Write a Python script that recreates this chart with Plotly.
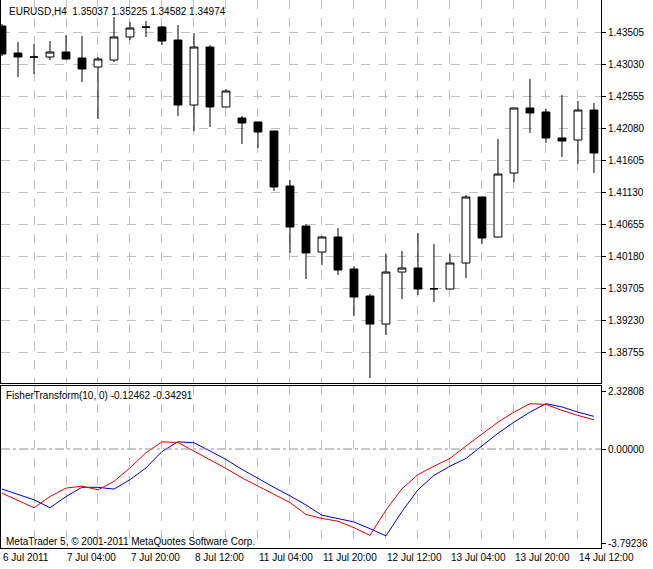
import plotly.graph_objects as go

W, H = 653, 569
opens  = [1.43594,1.43193,1.43134,1.43134,1.43208,1.43119,1.42985,1.43089,1.43431,1.43575,1.43579,1.43386,1.42421,1.43282,1.42392,1.42228,1.42169,1.42035,1.41219,1.40625,1.40239,1.40462,1.39987,1.39586,1.39170,1.39942,1.40002,1.39690,1.39690,1.40076,1.41056,1.40462,1.41412,1.42377,1.42318,1.41932,1.41902,1.42347]
highs  = [1.43624,1.43357,1.43327,1.43371,1.43460,1.43446,1.43134,1.43728,1.43653,1.43668,1.43594,1.43609,1.43490,1.43312,1.42659,1.42258,1.42175,1.42040,1.41308,1.40655,1.40477,1.40596,1.40031,1.39616,1.40210,1.40254,1.40521,1.40358,1.40210,1.41085,1.41060,1.41917,1.42377,1.42807,1.42362,1.42570,1.42481,1.42451]
lows   = [1.43149,1.42837,1.42882,1.43089,1.43095,1.42763,1.42214,1.43060,1.43386,1.43431,1.43312,1.42258,1.42035,1.42095,1.42385,1.41843,1.41783,1.41145,1.40225,1.39838,1.40046,1.39898,1.39289,1.38369,1.39007,1.39541,1.39601,1.39497,1.39685,1.39853,1.40358,1.40455,1.41278,1.42006,1.41857,1.41650,1.41546,1.41412]
closes = [1.43178,1.43134,1.43134,1.43208,1.43104,1.42956,1.43104,1.43431,1.43564,1.43579,1.43371,1.42421,1.43282,1.42392,1.42629,1.42154,1.42021,1.41204,1.40610,1.40225,1.40462,1.39972,1.39571,1.39170,1.39942,1.40002,1.39690,1.39695,1.40076,1.41056,1.40447,1.41397,1.42377,1.42303,1.41932,1.41887,1.42347,1.41709]
fisher = [-1.775,-2.07,-2.36,-1.91,-1.57,-1.49,-1.64,-1.30,-0.76,-0.15,0.29,0.26,-0.08,-0.42,-0.78,-1.16,-1.50,-1.82,-2.15,-2.63,-2.79,-2.90,-3.16,-3.47,-2.45,-1.60,-1.03,-0.69,-0.38,0.12,0.60,1.08,1.48,1.82,1.79,1.55,1.35,1.17]
trigger = [-1.61,-1.82,-2.04,-2.36,-1.91,-1.54,-1.54,-1.61,-1.23,-0.76,-0.10,0.29,0.25,-0.08,-0.42,-0.82,-1.19,-1.54,-1.88,-2.25,-2.66,-2.79,-2.93,-3.20,-3.49,-2.51,-1.64,-1.06,-0.69,-0.38,0.12,0.63,1.08,1.48,1.82,1.69,1.48,1.31]
time_pos = [0,4,8,12,16,20,24,28,32,36]
time_labels = ["6 Jul 2011","7 Jul 04:00","7 Jul 20:00","8 Jul 12:00","11 Jul 04:00","11 Jul 20:00","12 Jul 12:00","13 Jul 04:00","13 Jul 20:00","14 Jul 12:00"]
price_ticks = [1.43505,1.43030,1.42555,1.42080,1.41605,1.41130,1.40655,1.40180,1.39705,1.39230,1.38755]
fisher_ticks = [2.32808,0.0,-3.79236]
fisher_tick_labels = ["2.32808","0.00000","-3.79236"]

x = list(range(len(opens)))
FONT = dict(family="Liberation Sans", size=10, color="black")
fig = go.Figure()
fig.add_trace(go.Candlestick(x=x, open=opens, high=highs, low=lows, close=closes,
    increasing=dict(line=dict(color="black", width=1), fillcolor="white"),
    decreasing=dict(line=dict(color="black", width=1), fillcolor="black"),
    whiskerwidth=0, showlegend=False, hoverinfo="skip", xaxis="x", yaxis="y"))
fig.add_trace(go.Scatter(x=x, y=trigger, mode="lines", line=dict(color="#0000cc", width=1), xaxis="x2", yaxis="y2", showlegend=False))
fig.add_trace(go.Scatter(x=x, y=fisher, mode="lines", line=dict(color="#dd0000", width=1), xaxis="x2", yaxis="y2", showlegend=False))

xr = [-0.0625, 37.44]
xd = [1/W, 601/W]
grid_x = list(range(0, 38, 2))
common_x = dict(range=xr, domain=xd, tickvals=grid_x, showticklabels=False, showgrid=True,
                gridcolor="#c0c0c0", griddash="dash", gridwidth=1, showline=True, linecolor="black",
                mirror=True, zeroline=False, rangeslider=dict(visible=False), ticks="")
fig.update_layout(
    width=W, height=H, margin=dict(l=0, r=0, t=0, b=0, autoexpand=False), paper_bgcolor="white", plot_bgcolor="white",
    font=FONT,
    xaxis=dict(**common_x, anchor="y"),
    xaxis2=dict(**common_x, anchor="y2"),
    yaxis=dict(domain=[1-383/H, 1], range=[1.38295, 1.4398], side="right", tickvals=price_ticks,
               ticktext=[f"{v:.5f}" for v in price_ticks], ticks="outside", ticklen=4, tickcolor="black",
               showgrid=True, gridcolor="#c0c0c0", griddash="dash", showline=True, linecolor="black",
               mirror=True, zeroline=False, anchor="x", tickfont=FONT, automargin=False),
    yaxis2=dict(domain=[1-548/H, 1-386/H], range=[-3.976, 2.53], side="right", tickvals=fisher_ticks,
                ticktext=fisher_tick_labels, ticks="outside", ticklen=4, tickcolor="black",
                showgrid=False, showline=True, linecolor="black", mirror=True, zeroline=False,
                anchor="x2", tickfont=FONT, automargin=False),
)
fig.add_shape(type="line", xref="x2 domain", yref="y2", x0=0, x1=1, y0=0, y1=0,
              line=dict(color="#909090", width=1, dash="dashdot"))
for p, t in zip(time_pos, time_labels):
    fig.add_annotation(x=p, y=1-557/H, xref="x2", yref="paper", yanchor="middle", xanchor="left",
                       text=t, showarrow=False, font=FONT, xshift=-1)
fig.add_annotation(x=7/W, y=1-12/H, xref="paper", yref="paper", xanchor="left", yanchor="middle",
                   text="EURUSD,H4  1.35037 1.35225 1.34582 1.34974", showarrow=False, font=FONT)
fig.add_annotation(x=4/W, y=1-395/H, xref="paper", yref="paper", xanchor="left", yanchor="middle",
                   text="FisherTransform(10, 0) -0.12462 -0.34291", showarrow=False, font=FONT)
fig.add_annotation(x=4/W, y=1-541/H, xref="paper", yref="paper", xanchor="left", yanchor="middle",
                   text="MetaTrader 5, © 2001-2011 MetaQuotes Software Corp.", showarrow=False, font=FONT)
fig.write_html("out.html", post_script="document.body.style.margin='0px';",
               config={"displayModeBar": False, "staticPlot": True})
